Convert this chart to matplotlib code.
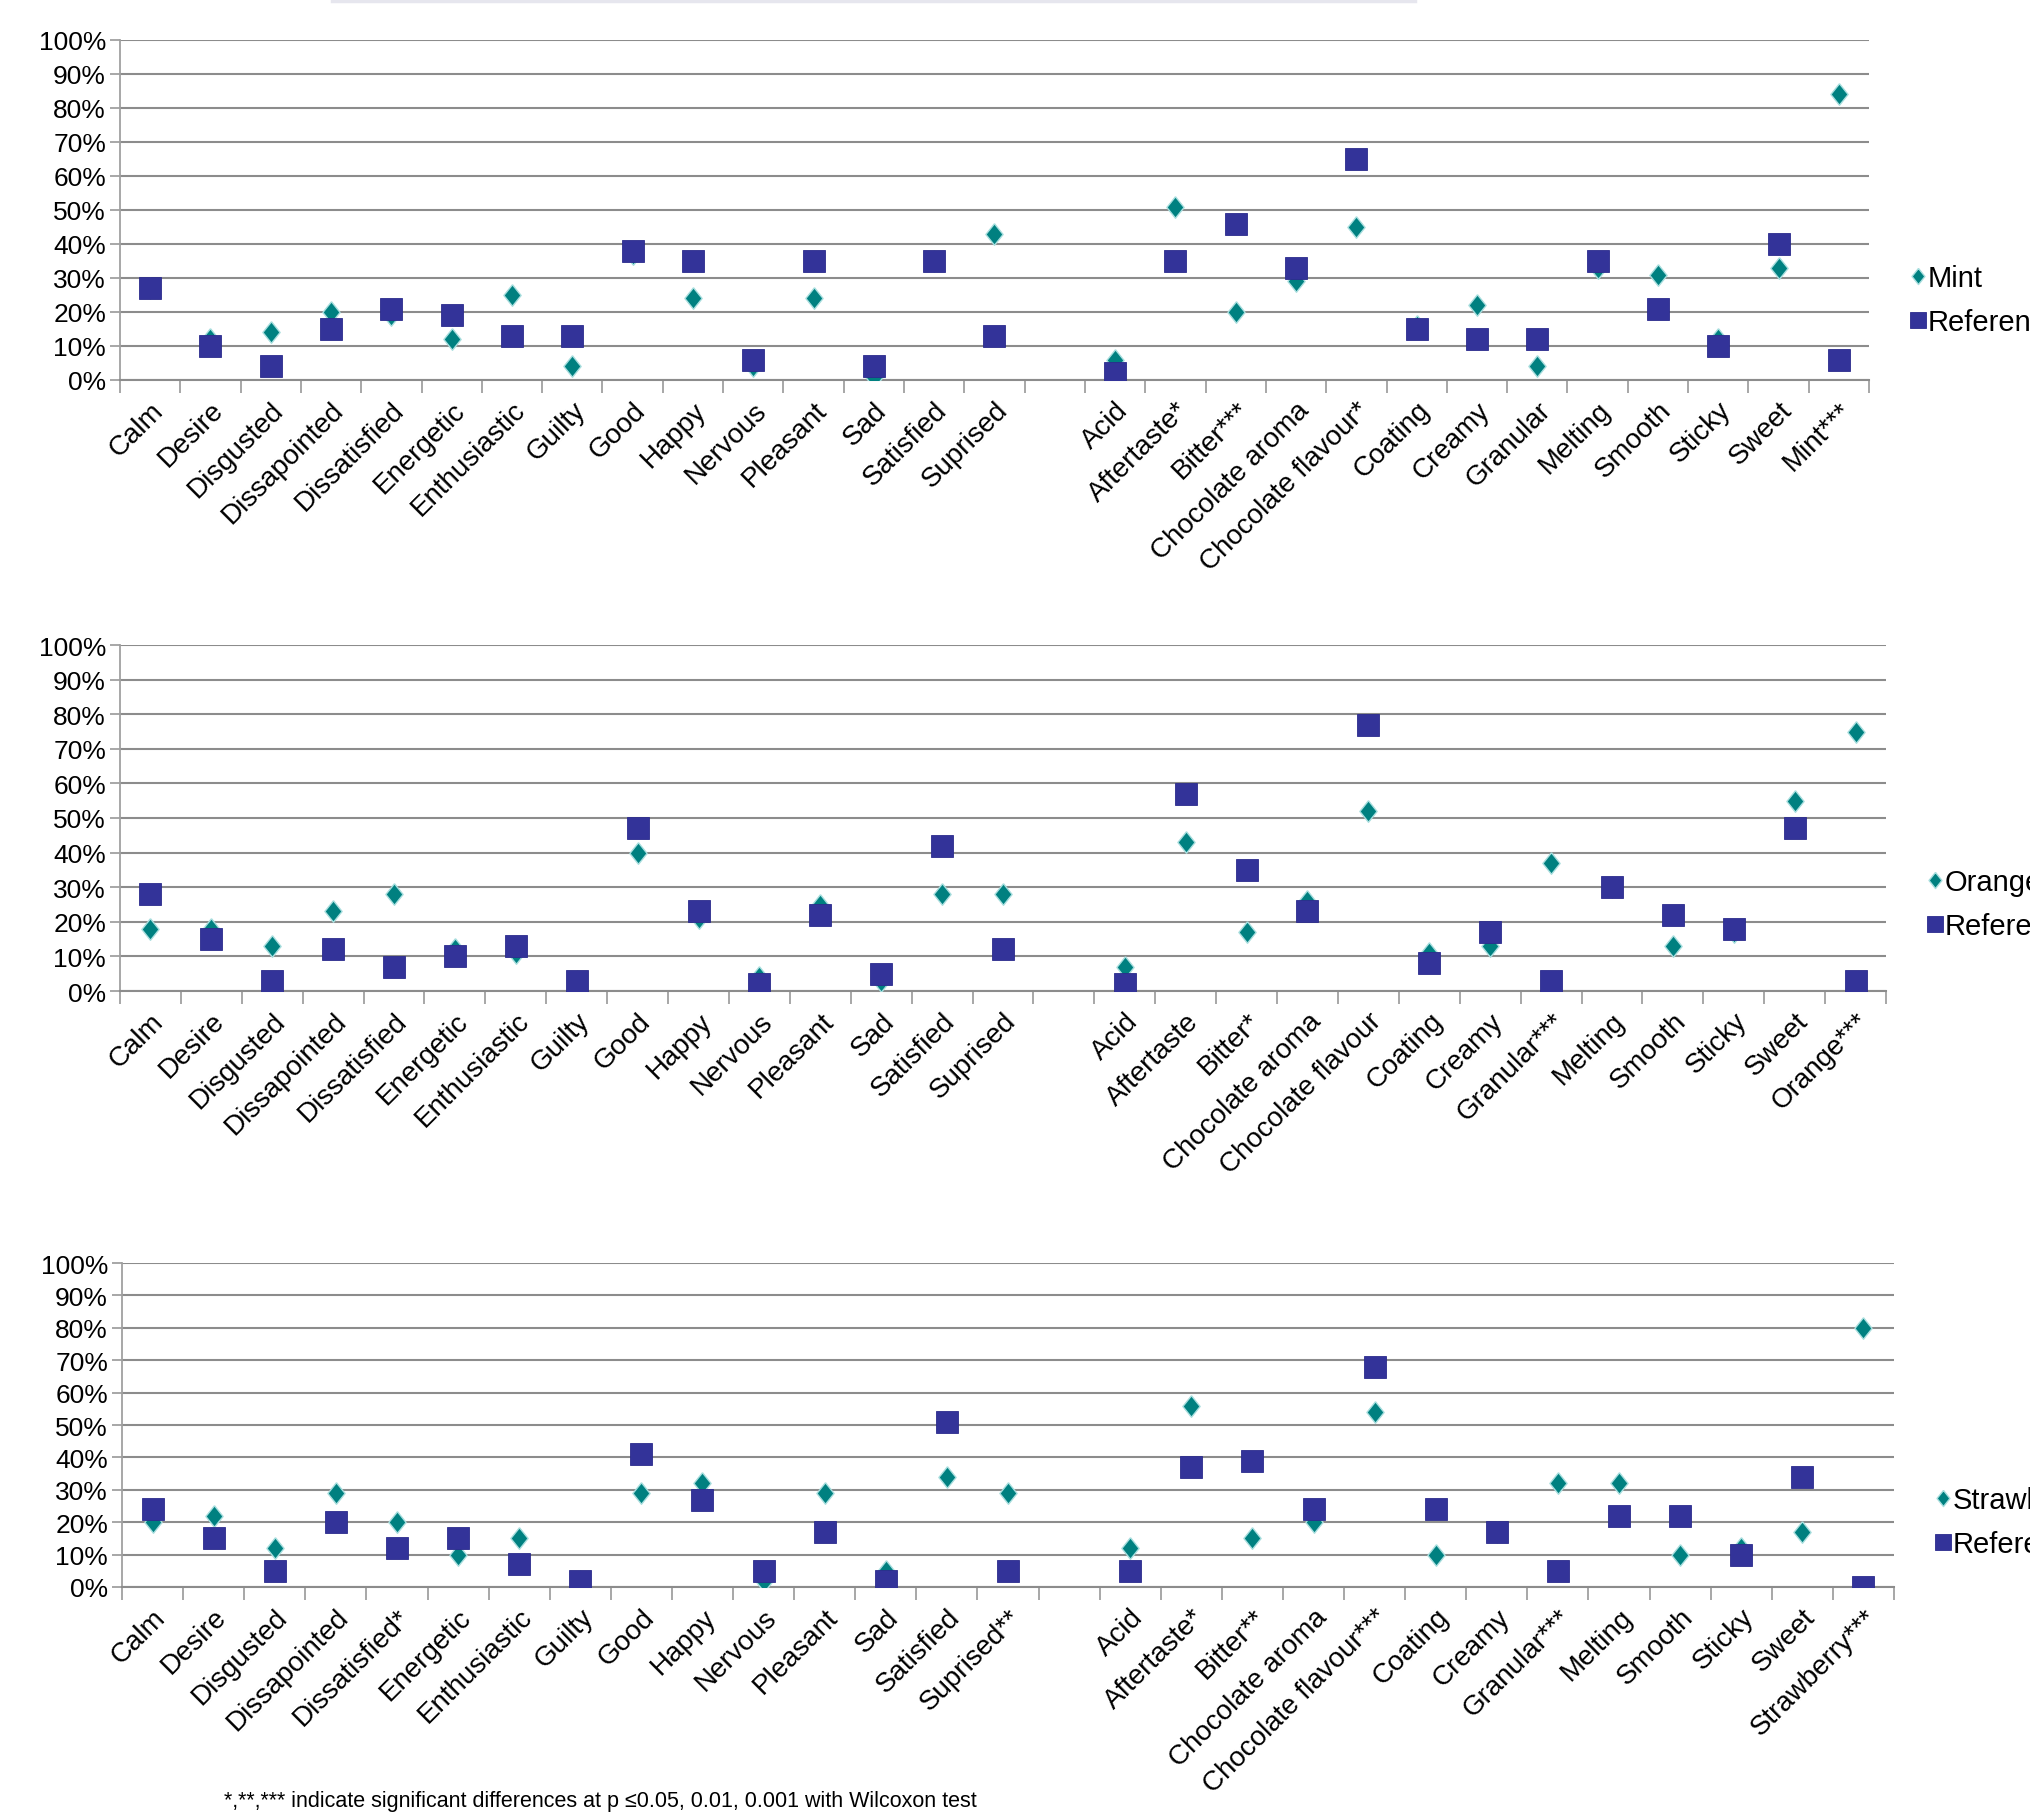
import numpy as np
import matplotlib.pyplot as plt
from matplotlib.lines import Line2D
from matplotlib.ticker import PercentFormatter, FixedLocator

plt.rcParams['font.family'] = ['Liberation Sans', 'DejaVu Sans']

# category names (emotions, then sensory attributes)
emotions = ["Calm", "Desire", "Disgusted", "Dissapointed", "Dissatisfied", "Energetic",
            "Enthusiastic", "Guilty", "Good", "Happy", "Nervous", "Pleasant", "Sad",
            "Satisfied", "Suprised"]
emotions_straw = ["Calm", "Desire", "Disgusted", "Dissapointed", "Dissatisfied*", "Energetic",
                  "Enthusiastic", "Guilty", "Good", "Happy", "Nervous", "Pleasant", "Sad",
                  "Satisfied", "Suprised**"]
sensory_mint = ["Acid", "Aftertaste*", "Bitter***", "Chocolate aroma", "Chocolate flavour*",
                "Coating", "Creamy", "Granular", "Melting", "Smooth", "Sticky", "Sweet", "Mint***"]
sensory_orange = ["Acid", "Aftertaste", "Bitter*", "Chocolate aroma", "Chocolate flavour",
                  "Coating", "Creamy", "Granular***", "Melting", "Smooth", "Sticky", "Sweet",
                  "Orange***"]
sensory_straw = ["Acid", "Aftertaste*", "Bitter**", "Chocolate aroma", "Chocolate flavour***",
                 "Coating", "Creamy", "Granular***", "Melting", "Smooth", "Sticky", "Sweet",
                 "Strawberry***"]

# % of panelists citing each term
mint_emo = [27, 12, 14, 20, 19, 12, 25, 4, 37, 24, 4, 24, 1, 35, 43]
mint_ref_emo = [27, 10, 4, 15, 21, 19, 13, 13, 38, 35, 6, 35, 4, 35, 13]
mint_sens = [6, 51, 20, 29, 45, 16, 22, 4, 33, 31, 12, 33, 84]
mint_ref_sens = [2, 35, 46, 33, 65, 15, 12, 12, 35, 21, 10, 40, 6]

orange_emo = [18, 18, 13, 23, 28, 12, 11, 3, 40, 21, 4, 25, 3, 28, 28]
orange_ref_emo = [28, 15, 3, 12, 7, 10, 13, 3, 47, 23, 2, 22, 5, 42, 12]
orange_sens = [7, 43, 17, 26, 52, 11, 13, 37, 30, 13, 17, 55, 75]
orange_ref_sens = [2, 57, 35, 23, 77, 8, 17, 3, 30, 22, 18, 47, 3]

straw_emo = [20, 22, 12, 29, 20, 10, 15, 2, 29, 32, 2, 29, 5, 34, 29]
straw_ref_emo = [24, 15, 5, 20, 12, 15, 7, 2, 41, 27, 5, 17, 2, 51, 5]
straw_sens = [12, 56, 15, 20, 54, 10, 17, 32, 32, 10, 12, 17, 80]
straw_ref_sens = [5, 37, 39, 24, 68, 24, 17, 5, 22, 22, 10, 34, 0]

W, H = 2031, 1815
fig = plt.figure(figsize=(W / 100, H / 100), dpi=100)

grid_col = '#8c8c8c'
ref_col = '#333399'
flav_col = '#008080'
diamond = [(0, 1), (0.8, 0), (0, -1), (-0.8, 0), (0, 1)]


def panel(px_box, emo_labels, sens_labels, flav_emo, ref_emo, flav_sens, ref_sens, name, leg_y):
    left, top, right, bottom = px_box
    ax = fig.add_axes([left / W, 1 - bottom / H, (right - left) / W, (bottom - top) / H])

    labels = emo_labels + [""] + sens_labels
    flav = np.array(flav_emo + [np.nan] + flav_sens, dtype=float) / 100
    ref = np.array(ref_emo + [np.nan] + ref_sens, dtype=float) / 100
    x = np.arange(len(labels))

    ax.plot(x, flav, linestyle='none', marker=diamond, markersize=15.5,
            color=flav_col, markeredgecolor='#a8dede', markeredgewidth=1, label=name, zorder=3)
    ax.plot(x, ref, linestyle='none', marker='s', markersize=16,
            color=ref_col, markeredgecolor='#2b2b8c', markeredgewidth=0.6,
            label='Reference', zorder=4)

    ax.set_xlim(-0.5, len(labels) - 0.5)
    ax.set_ylim(0, 1)
    ax.yaxis.set_major_locator(FixedLocator(np.arange(0, 1.01, 0.1)))
    ax.yaxis.set_major_formatter(PercentFormatter(1.0, decimals=0))
    ax.grid(axis='y', color=grid_col, linewidth=1.5)
    ax.set_axisbelow(True)

    ax.set_xticks(x)
    ax.set_xticklabels(labels, rotation=45, ha='right', rotation_mode='anchor', fontsize=20)
    ax.set_xticks(np.arange(len(labels) + 1) - 0.5, minor=True)
    ax.tick_params(axis='x', which='major', length=0, pad=12)
    ax.tick_params(axis='x', which='minor', length=9, width=1.3, color='#a0a0a0')
    ax.tick_params(axis='y', length=7, width=1.3, color='#a0a0a0', labelsize=19, pad=3)

    for s in ['top', 'right']:
        ax.spines[s].set_visible(False)
    ax.spines['left'].set_color('#a0a0a0')
    ax.spines['left'].set_linewidth(1.3)
    ax.spines['bottom'].set_color(grid_col)
    ax.spines['bottom'].set_linewidth(1.5)

    # legend sits to the right of the plot, running past the figure edge
    ax.legend(loc='center left', bbox_to_anchor=((right + 27) / W, 1 - leg_y / H),
              bbox_transform=fig.transFigure, frameon=False, fontsize=21, markerscale=0.75,
              handlelength=0.5, handletextpad=0.1, labelspacing=0.55, borderpad=0)
    return ax


panel((120, 41, 1869, 381), emotions, sensory_mint,
      mint_emo, mint_ref_emo, mint_sens, mint_ref_sens, 'Mint', 301)
panel((120, 646, 1886, 992), emotions, sensory_orange,
      orange_emo, orange_ref_emo, orange_sens, orange_ref_sens, 'Orange', 905)
panel((122, 1264, 1894, 1588), emotions_straw, sensory_straw,
      straw_emo, straw_ref_emo, straw_sens, straw_ref_sens, 'Strawberry', 1523)

# edge of the title box at the top
fig.add_artist(Line2D([332 / W, 1415 / W], [1 - 2 / H, 1 - 2 / H], color='#e6e6ee', lw=2.5))

fig.text(224 / W, 1 - 1802 / H,
         "*,**,*** indicate significant differences at p \u22640.05, 0.01, 0.001 with Wilcoxon test",
         fontsize=15.5, va='center')

plt.savefig("out.png", dpi=100)
